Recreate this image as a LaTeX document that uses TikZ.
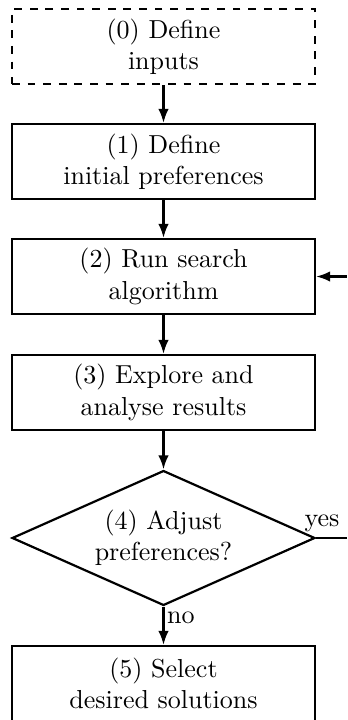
\documentclass[tikz,border=0pt]{standalone}
\usetikzlibrary{shapes.geometric,arrows.meta}
\begin{document}
\begin{tikzpicture}[x=0.3846pt,y=-0.3846pt,
  box/.style={draw,line width=0.85pt,minimum width=116.5pt,minimum height=28.8pt,inner sep=0pt,align=center,font=\fontsize{10}{12}\selectfont},
  dbox/.style={box,dashed},
  decision/.style={draw,line width=0.85pt,diamond,aspect=2.24,minimum width=116.5pt,minimum height=51.9pt,inner sep=0pt,align=center,font=\fontsize{10}{12}\selectfont},
  arr/.style={line width=0.85pt,-{Latex[length=5.4pt,width=4pt]}},
  lab/.style={font=\fontsize{10}{12}\selectfont,inner sep=1pt}]
\clip (0,0) rectangle (347,720);
\node[dbox] (b0) at (163.5,46.5) {(0) Define\\inputs};
\node[box] (b1) at (163.5,161.5) {(1) Define\\initial preferences};
\node[box] (b2) at (163.5,276.5) {(2) Run search\\algorithm};
\node[box] (b3) at (163.5,392.5) {(3) Explore and\\analyse results};
\node[decision] (d) at (163.5,538) {(4) Adjust\\preferences?};
\node[box] (b5) at (163.5,683.5) {(5) Select\\desired solutions};
\coordinate (loop) at (380,538);
\draw[arr] (b0) -- (b1);
\draw[arr] (b1) -- (b2);
\draw[arr] (b2) -- (b3);
\draw[arr] (b3) -- (d);
\draw[arr] (d) -- node[lab,right,pos=0.3]{no} (b5);
\draw[arr] (d.east) -- (loop) |- (b2.east);
\node[lab,anchor=south] (yes) at (322,535) {yes};
\end{tikzpicture}
\end{document}
